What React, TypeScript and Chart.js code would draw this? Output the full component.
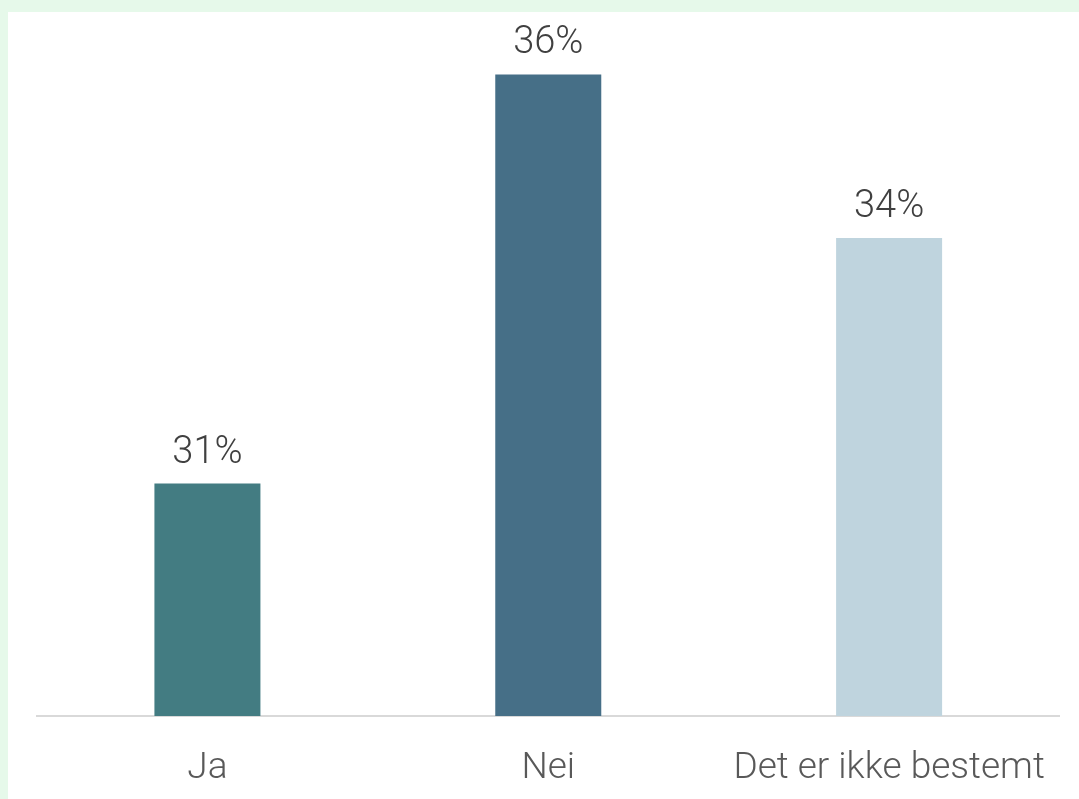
import React, { useEffect, useRef } from 'react';
import { Chart, registerables } from 'chart.js';
Chart.register(...registerables);

const categories = ['Ja', 'Nei', 'Det er ikke bestemt'];
const values = [31, 36, 34];
const valueLabels = ['31%', '36%', '34%'];
const barColors = ['#437c82', '#466f87', '#bfd4de'];

const FONT_FAMILY = 'Roboto';

export default function App() {
  const ref = useRef<HTMLCanvasElement>(null);
  useEffect(() => {
    const labelPlugin = {
      id: 'valueLabels',
      afterDatasetsDraw(chart: any) {
        const ctx = chart.ctx;
        const meta = chart.getDatasetMeta(0);
        ctx.save();
        ctx.font = `300 38px ${FONT_FAMILY}`;
        ctx.fillStyle = '#404040';
        ctx.textAlign = 'center';
        ctx.textBaseline = 'alphabetic';
        meta.data.forEach((bar: any, i: number) => {
          ctx.fillText(valueLabels[i], bar.x, bar.y - 21);
        });
        ctx.restore();
      },
    };
    const chart = new Chart(ref.current as HTMLCanvasElement, {
      type: 'bar',
      data: {
        labels: categories,
        datasets: [
          {
            data: values,
            backgroundColor: barColors,
            barPercentage: 0.311,
            categoryPercentage: 1,
          },
        ],
      },
      options: {
        responsive: false,
        animation: false,
        layout: { padding: { left: 29, right: 19, top: 6, bottom: 0 } },
        plugins: { legend: { display: false }, tooltip: { enabled: false } },
        scales: {
          x: {
            grid: { display: false, drawTicks: false },
            border: { color: '#d9d9d9', width: 2 },
            ticks: {
              font: { family: FONT_FAMILY, size: 37, weight: 300 },
              color: '#595959',
              padding: 31,
              maxRotation: 0,
              autoSkip: false,
            },
            afterFit: (scale: any) => {
              scale.height = 83;
            },
          },
          y: { display: false, min: 28.16, max: 36.69 },
        },
      },
      plugins: [labelPlugin],
    });
    return () => chart.destroy();
  }, []);

  return (
    <div style={{ position: 'fixed', inset: 0, background: '#e6f9ea' }}>
      <div style={{ position: 'absolute', left: 8, top: 12, right: 0, bottom: 0, background: '#ffffff' }}>
        <canvas ref={ref} width={1071} height={787} style={{ display: 'block' }} />
      </div>
    </div>
  );
}
